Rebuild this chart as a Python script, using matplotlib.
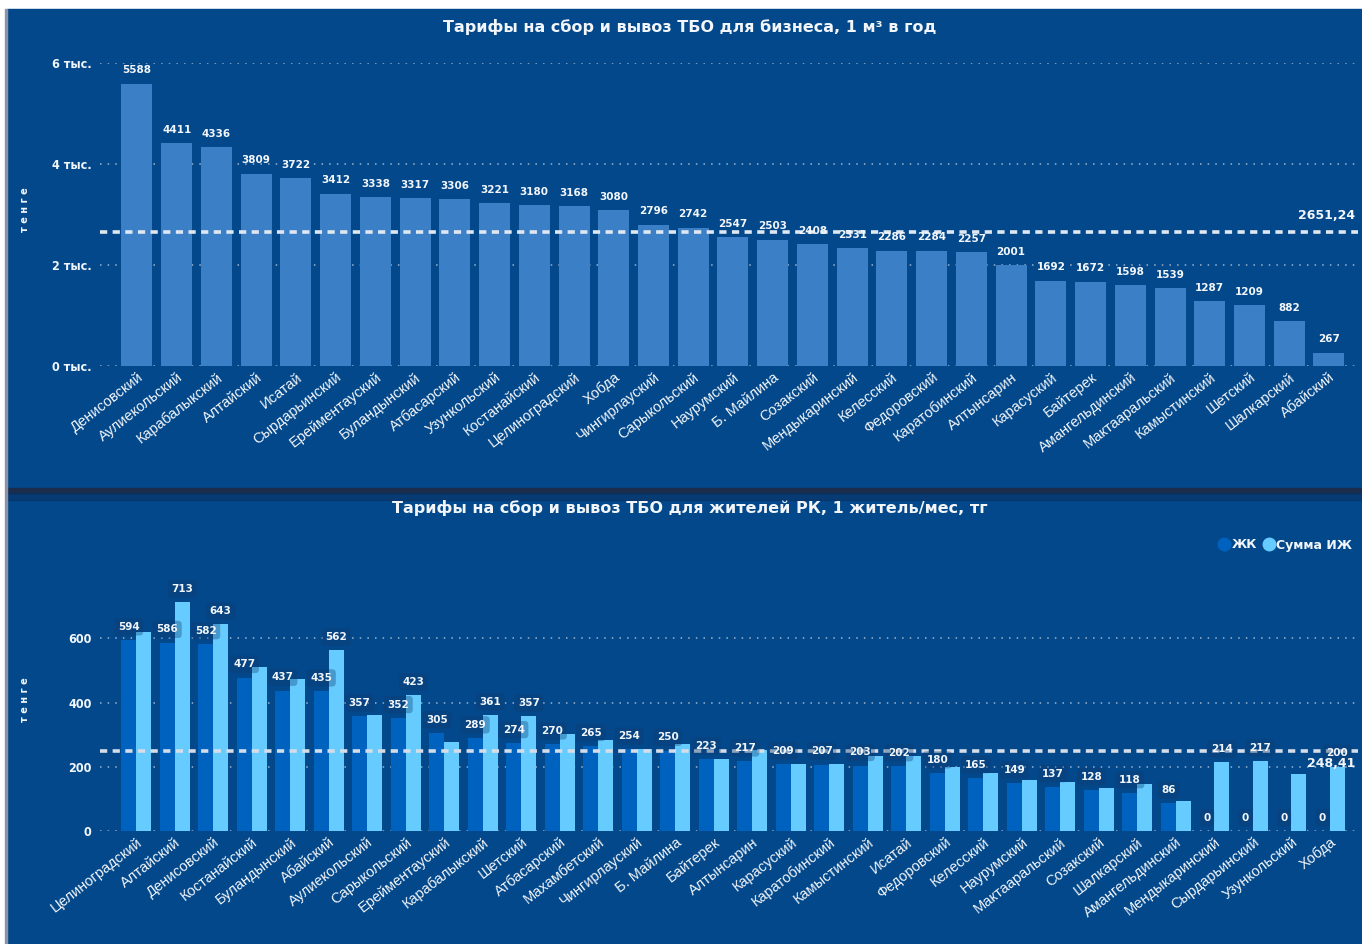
import numpy as np
import matplotlib.pyplot as plt
from matplotlib.patches import Rectangle
from matplotlib.lines import Line2D
import matplotlib.transforms as mtransforms

#%% Data
biz_districts = ["Денисовский", "Аулиекольский", "Карабалыкский", "Алтайский", "Исатай",
                 "Сырдарьинский", "Ерейментауский", "Буландынский", "Атбасарский", "Узункольский",
                 "Костанайский", "Целиноградский", "Хобда", "Чингирлауский", "Сарыкольский",
                 "Наурумский", "Б. Майлина", "Созакский", "Мендыкаринский", "Келесский",
                 "Федоровский", "Каратобинский", "Алтынсарин", "Карасуский", "Байтерек",
                 "Амангельдинский", "Мактааральский", "Камыстинский", "Шетский", "Шалкарский",
                 "Абайский"]
biz_tariff = [5588, 4411, 4336, 3809, 3722, 3412, 3338, 3317, 3306, 3221, 3180, 3168, 3080,
              2796, 2742, 2547, 2503, 2408, 2331, 2286, 2284, 2257, 2001, 1692, 1672, 1598,
              1539, 1287, 1209, 882, 267]
biz_avg = 2651.24

res_districts = ["Целиноградский", "Алтайский", "Денисовский", "Костанайский", "Буландынский",
                 "Абайский", "Аулиекольский", "Сарыкольский", "Ерейментауский", "Карабалыкский",
                 "Шетский", "Атбасарский", "Махамбетский", "Чингирлауский", "Б. Майлина",
                 "Байтерек", "Алтынсарин", "Карасуский", "Каратобинский", "Камыстинский",
                 "Исатай", "Федоровский", "Келесский", "Наурумский", "Мактааральский",
                 "Созакский", "Шалкарский", "Амангельдинский", "Мендыкаринский", "Сырдарьинский",
                 "Узункольский", "Хобда"]
res_zhk = [594, 586, 582, 477, 437, 435, 357, 352, 305, 289, 274, 270, 265, 254, 250, 223,
           217, 209, 207, 203, 202, 180, 165, 149, 137, 128, 118, 86, 0, 0, 0, 0]
res_izh = [618, 713, 643, 511, 474, 562, 360, 423, 278, 361, 357, 302, 284, 255, 270, 224,
           253, 208, 208, 233, 233, 199, 182, 159, 151, 135, 145, 93, 214, 217, 176, 200]
res_izh_labeled = [1, 2, 5, 7, 9, 10, 28, 29, 31]
res_avg = 248.41

#%% Style
PANEL = "#03488b"
BAR_BIZ = "#3b80c6"
BAR_ZHK = "#0062bf"
BAR_IZH = "#66ccff"
TXT = "#f2f6fa"
GRID = "#9db3cc"
W, H = 1362, 944

fig = plt.figure(figsize=(W / 100, H / 100), dpi=100, facecolor="white")

# panels (Power BI cards)
fig.patches.append(Rectangle((7 / W, 1 - 489 / H), (W - 7) / W, 480 / H,
                             transform=fig.transFigure, color=PANEL, zorder=-3))
fig.patches.append(Rectangle((7 / W, 0), (W - 7) / W, (H - 492) / H,
                             transform=fig.transFigure, color=PANEL, zorder=-3))
fig.patches.append(Rectangle((7 / W, 1 - 493 / H), (W - 7) / W, 5 / H,
                             transform=fig.transFigure, color="#1b2d4d", zorder=-2))
fig.patches.append(Rectangle((7 / W, 1 - 500 / H), (W - 7) / W, 7 / H,
                             transform=fig.transFigure, color="#0a2f5c", alpha=0.5, zorder=-2))
fig.patches.append(Rectangle((5 / W, 0), 2 / W, 1 - 9 / H,
                             transform=fig.transFigure, color="#8a93a8", zorder=-2))


def px_axes(left, top, right, bottom):
    return fig.add_axes([left / W, 1 - bottom / H, (right - left) / W, (bottom - top) / H])


def style_axes(ax):
    ax.set_facecolor("none")
    for s in ax.spines.values():
        s.set_visible(False)
    ax.tick_params(length=0, colors=TXT)
    ax.grid(axis="y", color=GRID, linestyle=(0, (1, 4)), linewidth=1.1)
    ax.set_axisbelow(True)


#%% Top chart: business
ax1 = px_axes(100, 63, 1358, 366)
style_axes(ax1)
x1 = np.arange(len(biz_districts))
ax1.bar(x1, biz_tariff, width=0.78, color=BAR_BIZ, zorder=2)
ax1.set_xlim(-0.93, len(x1) - 1 + 0.73)
ax1.set_ylim(0, 6000)
ax1.set_yticks([0, 2000, 4000, 6000])
ax1.set_yticklabels(["0 тыс.", "2 тыс.", "4 тыс.", "6 тыс."], fontsize=9, fontweight="bold",
                    fontstretch="condensed")
ax1.set_xticks(x1)
ax1.set_xticklabels(biz_districts, rotation=38, ha="right", rotation_mode="anchor",
                    fontsize=10.5, family="Liberation Sans", color=TXT)
ax1.tick_params(axis="x", pad=3)
ax1.tick_params(axis="y", pad=6)
for xi, v in zip(x1, biz_tariff):
    ax1.annotate(str(v), (xi, v), xytext=(0, 6), textcoords="offset points", ha="center",
                 va="bottom", fontsize=7.5, fontweight="bold", color=TXT, zorder=4)
ax1.axhline(biz_avg, color="#dfe7f1", linewidth=2.6, linestyle=(0, (2, 1.5)), zorder=3)
tr1 = mtransforms.blended_transform_factory(ax1.transAxes, ax1.transData)
ax1.annotate("2651,24", (1.0, biz_avg), xycoords=tr1, xytext=(-2, 7), textcoords="offset points",
             ha="right", va="bottom", fontsize=9, fontweight="bold", color=TXT)
fig.text(690 / W, 1 - 27 / H, "Тарифы на сбор и вывоз ТБО для бизнеса, 1 м³ в год",
         ha="center", va="center", fontsize=11.5, fontweight="bold", color=TXT)
fig.text(25 / W, 1 - 210 / H, "т е н г е", rotation=90, ha="center", va="center",
         fontsize=7, fontweight="bold", color=TXT)

#%% Bottom chart: residents
ax2 = px_axes(100, 574, 1358, 831)
style_axes(ax2)
x2 = np.arange(len(res_districts))
bw = 0.39
ax2.bar(x2 - bw / 2, res_zhk, width=bw, color=BAR_ZHK, zorder=2, label="ЖК")
ax2.bar(x2 + bw / 2, res_izh, width=bw, color=BAR_IZH, zorder=2, label="Сумма ИЖ")
ax2.set_xlim(-0.94, len(x2) - 1 + 0.73)
ax2.set_ylim(0, 800)
ax2.set_yticks([0, 200, 400, 600])
ax2.set_yticklabels(["0", "200", "400", "600"], fontsize=9, fontweight="bold",
                    fontstretch="condensed")
ax2.set_xticks(x2)
ax2.set_xticklabels(res_districts, rotation=38, ha="right", rotation_mode="anchor",
                    fontsize=10.5, family="Liberation Sans", color=TXT)
ax2.tick_params(axis="x", pad=3)
ax2.tick_params(axis="y", pad=6)
box = dict(boxstyle="round,pad=0.35", facecolor="#0c3a6e", edgecolor="none", alpha=0.35)
for xi, v in zip(x2, res_zhk):
    ax2.annotate(str(v), (xi - bw / 2, v), xytext=(0, 6), textcoords="offset points",
                 ha="center", va="bottom", fontsize=7.5, fontweight="bold", color=TXT,
                 bbox=box, zorder=4)
for i in res_izh_labeled:
    ax2.annotate(str(res_izh[i]), (x2[i] + bw / 2, res_izh[i]), xytext=(0, 6),
                 textcoords="offset points", ha="center", va="bottom", fontsize=7.5,
                 fontweight="bold", color=TXT, bbox=box, zorder=4)
ax2.axhline(res_avg, color="#d5dde8", linewidth=2.6, linestyle=(0, (2, 1.5)), zorder=3)
tr2 = mtransforms.blended_transform_factory(ax2.transAxes, ax2.transData)
ax2.annotate("248,41", (1.0, res_avg), xycoords=tr2, xytext=(-2, -4), textcoords="offset points",
             ha="right", va="top", fontsize=9, fontweight="bold", color=TXT, zorder=5)
fig.text(690 / W, 1 - 508 / H, "Тарифы на сбор и вывоз ТБО для жителей РК, 1 житель/мес, тг",
         ha="center", va="center", fontsize=11.5, fontweight="bold", color=TXT)
fig.text(25 / W, 1 - 700 / H, "т е н г е", rotation=90, ha="center", va="center",
         fontsize=7, fontweight="bold", color=TXT)

handles = [Line2D([], [], marker="o", linestyle="none", markersize=9, color=BAR_ZHK),
           Line2D([], [], marker="o", linestyle="none", markersize=9, color=BAR_IZH)]
fig.legend(handles, ["ЖК", "Сумма ИЖ"], loc="center right", bbox_to_anchor=(1357 / W, 1 - 545 / H),
           ncol=2, frameon=False, prop={"size": 9, "weight": "bold"}, labelcolor=TXT,
           handletextpad=0.1, columnspacing=0.4, borderaxespad=0, handlelength=1.0)

fig.savefig("out.png", dpi=100, facecolor=fig.get_facecolor())
